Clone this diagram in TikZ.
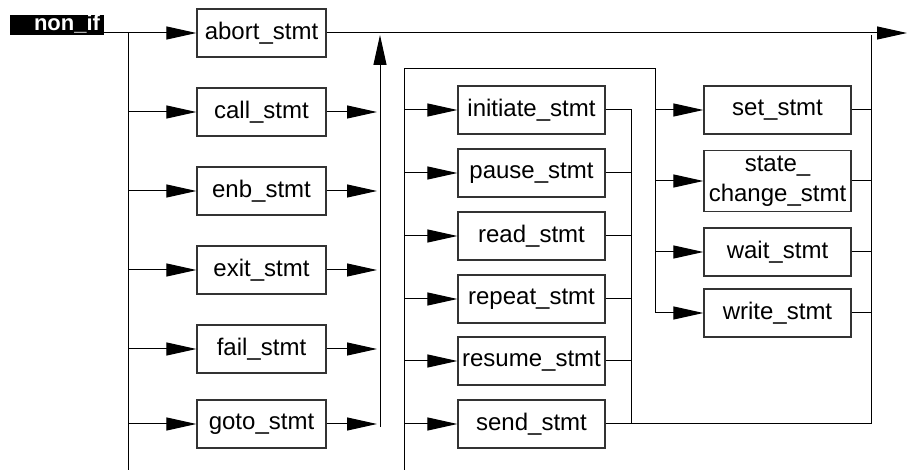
\documentclass[tikz,border=0pt]{standalone}
\usepackage{fontspec}
\setmainfont{Liberation Sans}
\usepackage{tikz}
\usetikzlibrary{arrows.meta}
\usetikzlibrary{positioning}
\tikzset{stmt box/.style={draw=black!80,rectangle,line width=0.6pt,inner sep=0pt,
                          minimum height=24pt,font=\fontsize{12}{15}\selectfont},
         narrow box/.style={stmt box,minimum width=64.5pt},
         wide box/.style={stmt box,minimum width=73.5pt},
         head box/.style={fill=black,text=white,inner sep=0pt,minimum width=47pt,
                          text height=7.7pt,text depth=2.3pt,
                          font=\fontsize{11}{13}\selectfont\bfseries},
         flowline/.style={draw,line width=0.5pt,-{Triangle[length=15pt,width=6.5pt]}},
         plainline/.style={draw,line width=0.5pt}}

\begin{document}
\begin{tikzpicture}[x=0.5pt,y=-0.5pt]
  \useasboundingbox (0,0) rectangle (907,470);

  \node[head box] (nonif) at (57,25.5) {\hspace*{10pt}non\_if};

  \node[narrow box] (abort) at (261.5,33)  {abort\_stmt};
  \node[narrow box] (call)  at (261.5,112) {call\_stmt};
  \node[narrow box] (enb)   at (261.5,191) {enb\_stmt};
  \node[narrow box] (exit)  at (261.5,270) {exit\_stmt};
  \node[narrow box] (fail)  at (261.5,349) {fail\_stmt};
  \node[narrow box] (goto)  at (261.5,424) {goto\_stmt};

  \node[wide box] (initiate) at (531.5,110) {initiate\_stmt};
  \node[wide box] (pause)    at (531.5,173) {pause\_stmt};
  \node[wide box] (read)     at (531.5,236) {read\_stmt};
  \node[wide box] (repeat)   at (531.5,299) {repeat\_stmt};
  \node[wide box] (resume)   at (531.5,361) {resume\_stmt};
  \node[wide box] (send)     at (531.5,424) {send\_stmt};

  \node[wide box] (set)    at (777.5,110) {set\_stmt};
  \node[wide box, minimum height=30.5pt, align=center] (statechange) at (777.5,181)
       {state\_\\change\_stmt};
  \node[wide box] (wait)   at (777.5,252) {wait\_stmt};
  \node[wide box] (write)  at (777.5,313) {write\_stmt};

  \coordinate (ltop) at (128,33);
  \coordinate (lbot) at (128,470);
  \coordinate (mtop) at (380,35);
  \coordinate (mbot) at (380,427);
  \coordinate (ctop) at (404,69);
  \coordinate (cbot) at (404,470);
  \coordinate (rtop) at (655,69);
  \coordinate (mj)   at (631,110);
  \coordinate (rj)   at (871,35);
  \coordinate (out)  at (907,33);

  \draw[flowline] (nonif.east |- abort.west) -- (abort.west);
  \draw[plainline] (ltop) -- (lbot);
  \draw[flowline] (ltop |- call.west) -- (call.west);
  \draw[flowline] (ltop |- enb.west)  -- (enb.west);
  \draw[flowline] (ltop |- exit.west) -- (exit.west);
  \draw[flowline] (ltop |- fail.west) -- (fail.west);
  \draw[flowline] (ltop |- goto.west) -- (goto.west);

  \draw[flowline] (abort.east) -- (out);
  \draw[flowline] (mbot) -- (mtop);
  \draw[flowline,shorten >=1.5pt] (call.east) -- (mtop |- call.east);
  \draw[flowline,shorten >=1.5pt] (enb.east)  -- (mtop |- enb.east);
  \draw[flowline,shorten >=1.5pt] (exit.east) -- (mtop |- exit.east);
  \draw[flowline,shorten >=1.5pt] (fail.east) -- (mtop |- fail.east);
  \draw[flowline,shorten >=1.5pt] (goto.east) -- (mtop |- goto.east);

  \draw[plainline] (cbot) -- (ctop) -- (rtop) -- (rtop |- write.west);
  \draw[flowline] (ctop |- initiate.west) -- (initiate.west);
  \draw[flowline] (ctop |- pause.west)    -- (pause.west);
  \draw[flowline] (ctop |- read.west)     -- (read.west);
  \draw[flowline] (ctop |- repeat.west)   -- (repeat.west);
  \draw[flowline] (ctop |- resume.west)   -- (resume.west);
  \draw[flowline] (ctop |- send.west)     -- (send.west);

  \draw[plainline] (initiate.east) -- (mj) -- (mj |- send.east);
  \draw[plainline] (pause.east)  -- (mj |- pause.east);
  \draw[plainline] (read.east)   -- (mj |- read.east);
  \draw[plainline] (repeat.east) -- (mj |- repeat.east);
  \draw[plainline] (resume.east) -- (mj |- resume.east);
  \draw[plainline] (send.east) -- (rj |- send.east) -- (rj);

  \draw[flowline] (rtop |- set.west)         -- (set.west);
  \draw[flowline] (rtop |- statechange.west) -- (statechange.west);
  \draw[flowline] (rtop |- wait.west)        -- (wait.west);
  \draw[flowline] (rtop |- write.west)       -- (write.west);
  \draw[plainline] (set.east)         -- (rj |- set.east);
  \draw[plainline] (statechange.east) -- (rj |- statechange.east);
  \draw[plainline] (wait.east)        -- (rj |- wait.east);
  \draw[plainline] (write.east)       -- (rj |- write.east);
\end{tikzpicture}
\end{document}
